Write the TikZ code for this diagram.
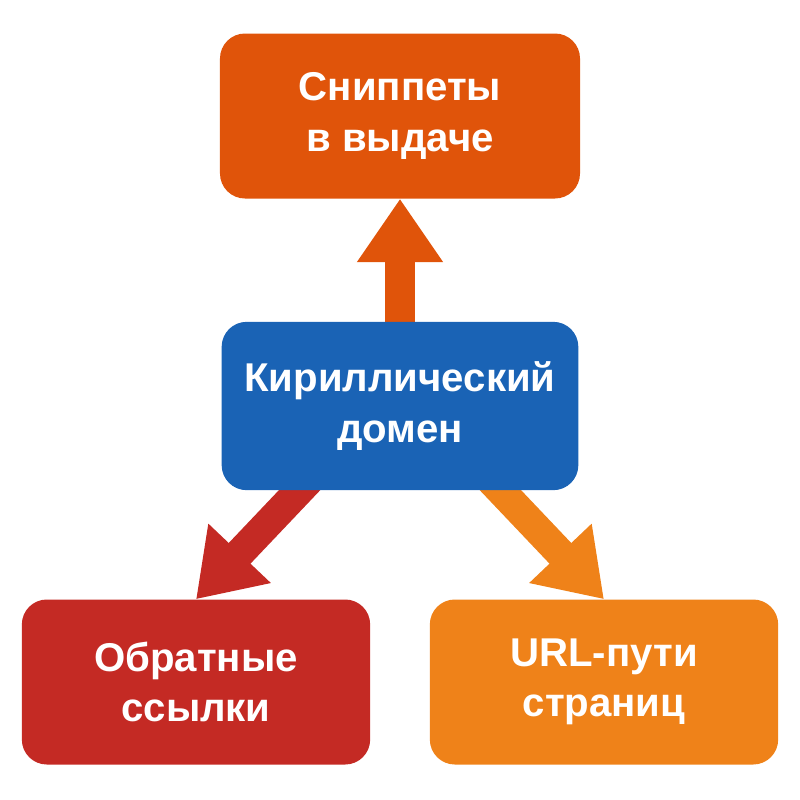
\documentclass[tikz,border=0pt]{standalone}
\usepackage{fontspec}
\setmainfont{Liberation Sans}
\usetikzlibrary{arrows.meta,backgrounds}

\definecolor{snipcol}{HTML}{E0540A}
\definecolor{domcol}{HTML}{1A63B5}
\definecolor{linkcol}{HTML}{C42A24}
\definecolor{urlcol}{HTML}{EF8219}

\begin{document}
\begin{tikzpicture}
[
	x=0.03cm, y=-0.03cm,
	box/.style={fill=#1,rounded corners=0.75cm,text=white,font=\fontsize{34.3}{43}\selectfont\bfseries,align=center,inner sep=0pt,minimum height=4.95cm},
	blockarrow/.style={line width=0.9cm,-{Triangle[length=1.9cm,width=2.45cm]}}
]

	\useasboundingbox (0,0) rectangle (800,800);

	% boxes
	\node[box=snipcol,minimum width=10.8cm] at (400,116) (snip) {Сниппеты\\в выдаче};
	\node[box=domcol,minimum width=10.7cm,minimum height=5.05cm] at (400,406) (dom) {Кириллический\\домен};
	\node[box=linkcol,minimum width=10.45cm] at (196,682) (links) {Обратные\\ссылки};
	\node[box=urlcol,minimum width=10.45cm] at (604,682) (urls) {URL-пути\\страниц};

	% arrows
	\begin{scope}[on background layer]
		\draw[blockarrow,snipcol] (dom.north) -- (snip.south);
		\draw[blockarrow,linkcol] ([xshift=-2.45cm,yshift=0.6cm]dom.south) -- (links.north);
		\draw[blockarrow,urlcol] ([xshift=2.45cm,yshift=0.6cm]dom.south) -- (urls.north);
	\end{scope}

\end{tikzpicture}
\end{document}
